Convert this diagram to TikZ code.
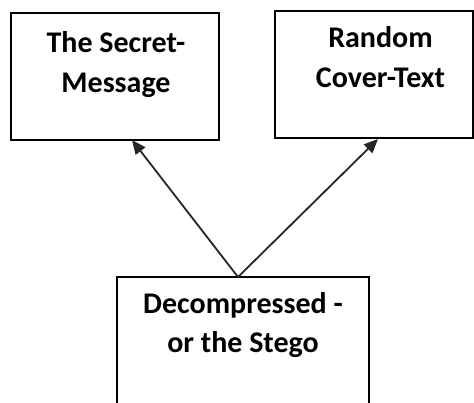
\documentclass[tikz,border=0pt]{standalone}
\usepackage{fontspec}
\setmainfont{Carlito}
\usetikzlibrary{arrows.meta}
\tikzset{
  box/.style={draw=black, line width=1.8pt, rectangle, inner sep=0pt},
  label text/.style={font=\bfseries\fontsize{30}{39.5}\selectfont, align=center, inner sep=0pt, anchor=base},
  link/.style={draw=black!85, line width=1.8pt, -{Triangle[length=14pt,width=12pt]}}
}
\begin{document}
\begin{tikzpicture}[x=1pt,y=-1pt]
  \useasboundingbox (0,0) rectangle (474,402);
  \clip (0,0) rectangle (474,402);
  % boxes
  \draw[box] (11,13) rectangle (219,140);
  \draw[box] (275,11) rectangle (473,138);
  \draw[box] (117,277) rectangle (369,420);
  % anchor points for the arrows
  \coordinate (src) at (238,277);
  \coordinate (tipL) at (132,140);
  \coordinate (tipR) at (378,139);
  % labels (placed by the baseline of their last line)
  \node[label text] (secret) at (116,92) {The Secret-\\Message};
  \node[label text] (cover) at (380.5,87) {Random\\Cover-Text};
  \node[label text] (stego) at (243,352.5) {Decompressed -\\or the Stego};
  % connectors
  \draw[link] (src) -- (tipL);
  \draw[link] (src) -- (tipR);
\end{tikzpicture}
\end{document}
